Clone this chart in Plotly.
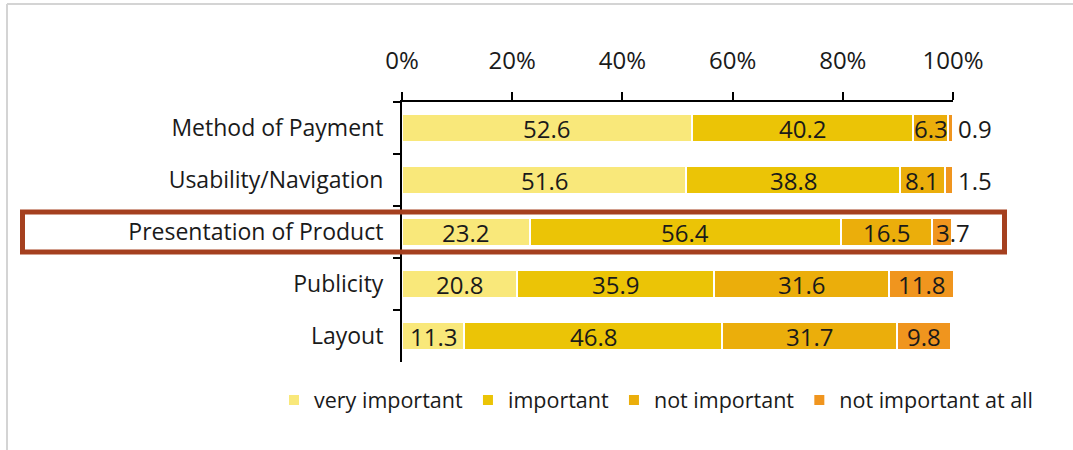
import plotly.graph_objects as go

categories = ["Method of Payment", "Usability/Navigation", "Presentation of Product", "Publicity", "Layout"]
very_important = [52.6, 51.6, 23.2, 20.8, 11.3]
important = [40.2, 38.8, 56.4, 35.9, 46.8]
not_important = [6.3, 8.1, 16.5, 31.6, 31.7]
not_important_at_all = [0.9, 1.5, 3.7, 11.8, 9.8]
series_names = ["very important", "important", "not important", "not important at all"]
series_values = [very_important, important, not_important, not_important_at_all]
colors = ["#F9E87A", "#EBC406", "#EBAE0B", "#F0951E"]
x_ticks = [0, 20, 40, 60, 80, 100]

FONT = "Open Sans"
TXT = "#1a1a1a"
NUM_SIZE = 24
TXT_SIZE = 23
LEG_SIZE = 21.5
X_MAX = 100

W, H = 1073, 450
L, R, T, B = 402, 953, 102, 362
pw, ph = R - L, B - T

def px(x):
    return (x - L) / pw

def py(y):
    return (B - y) / ph

fig = go.Figure()
for name, vals, col in zip(series_names, series_values, colors):
    fig.add_trace(go.Bar(
        name=name, y=categories, x=vals, orientation="h",
        marker=dict(color=col, line=dict(color="white", width=2)),
        textposition="none", hoverinfo="x+y+name",
    ))

# data labels, positioned from the stacked data values
annotations = []
for ci, cat in enumerate(categories):
    start = 0.0
    for si, vals in enumerate(series_values):
        v = vals[ci]
        last = si == len(series_values) - 1
        end = min(round(start + v, 6), X_MAX)
        if last and v < 2:
            ax, anchor, shift = end, "left", 3
        elif last and v < 5:
            ax, anchor, shift = start, "left", 2
        else:
            ax, anchor, shift = start + v / 2, "center", 0
        annotations.append(dict(
            x=ax, y=cat, xref="x", yref="y", text=f"{v:.1f}", showarrow=False,
            xanchor=anchor, xshift=shift, yanchor="middle",
            font=dict(family=FONT, size=NUM_SIZE, color=TXT),
        ))
        start += v

shapes = [
    # outer light border (top & left)
    dict(type="line", xref="paper", yref="paper", x0=px(7), x1=px(1080), y0=py(4), y1=py(4),
         line=dict(color="#D4D4D4", width=2)),
    dict(type="line", xref="paper", yref="paper", x0=px(7), x1=px(7), y0=py(4), y1=py(460),
         line=dict(color="#D4D4D4", width=2)),
    # small overhang of the category axis line to the left
    dict(type="line", xref="paper", yref="paper", x0=px(393), x1=0, y0=1, y1=1,
         line=dict(color="black", width=2)),
    # highlight rectangle
    dict(type="rect", xref="paper", yref="paper", x0=px(22.5), x1=px(1004.5), y0=py(252), y1=py(212),
         line=dict(color="#A5401F", width=5), layer="above"),
]

fig.update_layout(
    width=W, height=H,
    margin=dict(l=L, r=W - R, t=T, b=H - B, pad=0),
    barmode="stack", bargap=0.465,
    plot_bgcolor="white", paper_bgcolor="white",
    font=dict(family=FONT, size=TXT_SIZE, color=TXT),
    showlegend=True,
    legend=dict(orientation="h", x=px(274), xanchor="left", y=py(400), yanchor="middle",
                font=dict(family=FONT, size=LEG_SIZE, color=TXT), itemwidth=30,
                traceorder="normal", bgcolor="rgba(0,0,0,0)"),
    shapes=shapes,
    annotations=annotations,
)
fig.update_xaxes(
    side="top", range=[0, X_MAX], tickvals=x_ticks, ticktext=[f"{v}%" for v in x_ticks],
    showgrid=False, zeroline=False, showline=True, linecolor="black", linewidth=2,
    ticks="outside", ticklen=8, tickwidth=2, tickcolor="black", ticklabelstandoff=13,
    tickfont=dict(family=FONT, size=NUM_SIZE, color=TXT),
)
fig.update_yaxes(
    type="category", categoryorder="array", categoryarray=categories, autorange="reversed",
    showgrid=False, zeroline=False, showline=True, linecolor="black", linewidth=2,
    ticks="outside", ticklen=7, tickwidth=2, tickcolor="black", tickson="boundaries",
    ticklabelstandoff=12, tickfont=dict(family=FONT, size=TXT_SIZE, color=TXT),
)

fig.write_html("out.html")
